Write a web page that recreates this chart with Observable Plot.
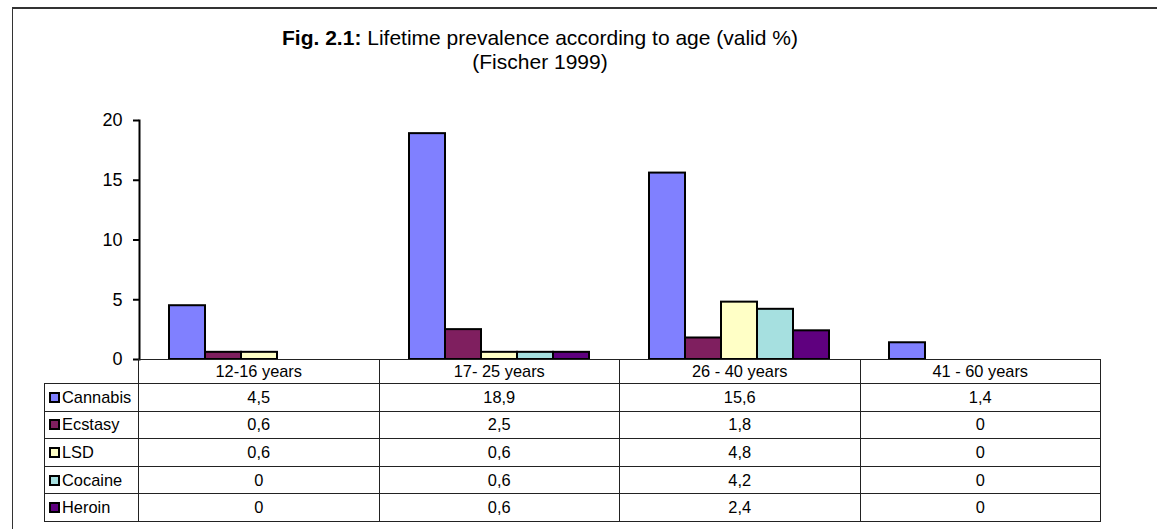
<!DOCTYPE html>
<html><head><meta charset="utf-8">
<script src="https://cdn.jsdelivr.net/npm/d3@7"></script>
<script src="https://cdn.jsdelivr.net/npm/@observablehq/plot@0.6"></script>
<style>
html,body{margin:0;padding:0;background:#fff;}
#fig{position:relative;width:1157px;height:529px;overflow:hidden;font-family:"Liberation Sans",Arial,sans-serif;color:#000;background:#fff;}
#border{position:absolute;left:12px;top:7px;width:2000px;height:2000px;border-top:2px solid #333;border-left:1px solid #333;}
#title{position:absolute;left:0;top:26px;width:1080px;text-align:center;font-size:21px;line-height:24px;}
#chart{position:absolute;left:0;top:100px;}
#tbl{position:absolute;left:44px;top:359px;border-collapse:collapse;table-layout:fixed;font-size:16.4px;width:1056px;}
#tbl td{border:1px solid #222;padding:0;text-align:center;white-space:nowrap;overflow:hidden;}
#tbl tr.head td{height:23px;}
#tbl tr.row td{height:26.6px;}
#tbl tr.head td.blank{border-top:none;border-left:none;border-bottom:1px solid #222;}
#tbl td.lab{text-align:left;padding-left:4px;}
.key{display:inline-block;width:7px;height:7px;border:2px solid #000;margin-right:2px;vertical-align:0px;}
</style></head>
<body>
<div id="fig">
  <div id="border"></div>
  <div id="title"><b>Fig. 2.1:</b> Lifetime prevalence according to age (valid %)<br>(Fischer 1999)</div>
  <div id="chart"></div>
  <table id="tbl"></table>
</div>
<script>
const categories = ["12-16 years", "17- 25 years", "26 - 40 years", "41 - 60 years"];
const series = ["Cannabis", "Ecstasy", "LSD", "Cocaine", "Heroin"];
const colors = ["#8080FF", "#7F1F5F", "#FFFFC6", "#A6E0E0", "#5F007F"];
const cannabis = [4.5, 18.9, 15.6, 1.4];
const ecstasy = [0.6, 2.5, 1.8, 0];
const lsd = [0.6, 0.6, 4.8, 0];
const cocaine = [0, 0.6, 4.2, 0];
const heroin = [0, 0.6, 2.4, 0];
const yTicks = [0, 5, 10, 15, 20];

const valuesBySeries = [cannabis, ecstasy, lsd, cocaine, heroin];
const data = [];
series.forEach((s, i) => categories.forEach((c, j) => data.push({age: c, drug: s, value: valuesBySeries[i][j]})));

const chart = Plot.plot({
  width: 1157,
  height: 272,
  marginLeft: 138,
  marginRight: 57,
  marginTop: 20,
  marginBottom: 13,
  style: {background: "transparent", fontFamily: "Liberation Sans, Arial, sans-serif", fontSize: "18px", color: "#000"},
  fx: {domain: categories, padding: 0, axis: null},
  x: {domain: series, paddingInner: 0, paddingOuter: 0.8, axis: null},
  y: {domain: [0, 20], axis: null},
  color: {domain: series, range: colors},
  marks: [
    Plot.barY(data.filter(d => d.value > 0), {fx: "age", x: "drug", y: "value", fill: "drug", stroke: "#000", strokeWidth: 2}),
    Plot.ruleY([0], {stroke: "#222", strokeWidth: 1}),
    Plot.frame({anchor: "left", facetAnchor: "left", stroke: "#000", strokeWidth: 2}),
    Plot.axisY({ticks: yTicks, tickSize: 6, tickPadding: 11, strokeWidth: 2, fontSize: 18, fill: "#000", label: null})
  ]
});
document.getElementById("chart").appendChild(chart);

// data table below the chart (acts as the category axis and legend)
const fmt = v => String(v).replace(".", ",");
const tbl = document.getElementById("tbl");
let html = '<colgroup><col style="width:94px">' + categories.map(() => '<col style="width:240.5px">').join("") + '</colgroup>';
html += '<tr class="head"><td class="blank"></td>' + categories.map(c => `<td>${c}</td>`).join("") + '</tr>';
series.forEach((s, i) => {
  html += `<tr class="row"><td class="lab"><span class="key" style="background:${colors[i]}"></span>${s}</td>` +
    valuesBySeries[i].map(v => `<td>${fmt(v)}</td>`).join("") + '</tr>';
});
tbl.innerHTML = html;
</script>
</body></html>
